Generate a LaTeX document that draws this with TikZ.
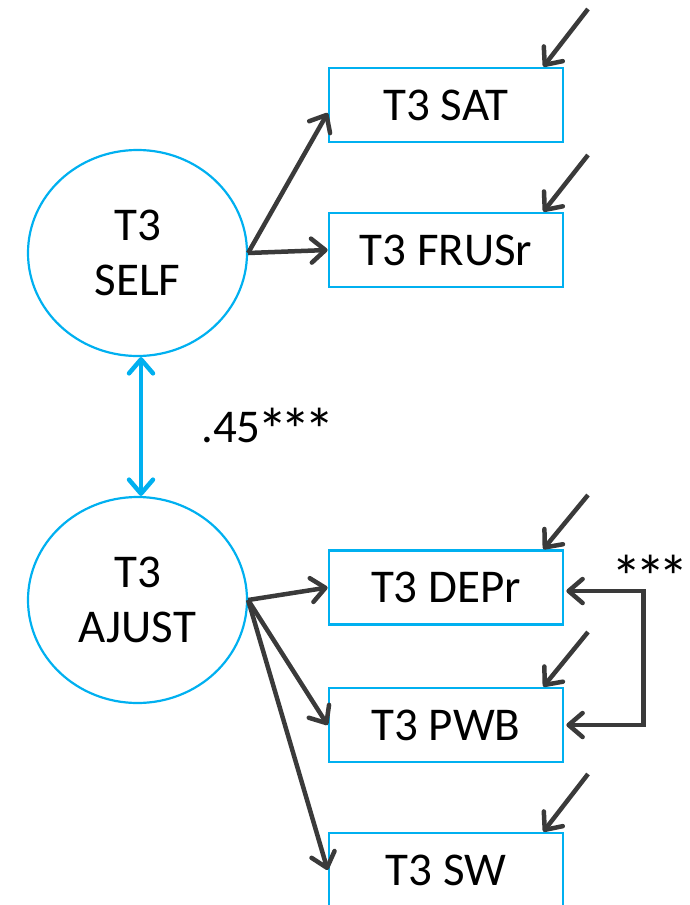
\documentclass[tikz,border=0pt]{standalone}
\usepackage{fontspec}
\usepackage{graphicx}
\setmainfont{Carlito}
\usetikzlibrary{arrows.meta,shapes.geometric}
\definecolor{cy}{HTML}{00B0F0}
\definecolor{dk}{HTML}{3A3A3A}
\newcommand{\bigast}{\makebox[0.5em]{\raisebox{-0.2em}{\scalebox{1.3}{*}}}}
\begin{document}
\begin{tikzpicture}[x=1pt,y=-1pt,
  latent/.style={ellipse,draw=cy,line width=2.2pt,minimum width=219pt,minimum height=206pt,inner sep=0pt,align=center,font=\fontsize{47}{55}\selectfont},
  obs/.style={rectangle,draw=cy,line width=2.7pt,minimum width=234pt,minimum height=74pt,inner sep=0pt,font=\fontsize{47}{55}\selectfont},
  arr/.style={draw=dk,line width=4.5pt,-{Straight Barb[length=14pt,width=24pt,round]}},
  dbl/.style={draw=cy,line width=4.5pt,{Straight Barb[length=14pt,width=24pt,round]}-{Straight Barb[length=14pt,width=24pt,round]}},
  cor/.style={draw=dk,line width=4.5pt,{Straight Barb[length=14pt,width=24pt,round]}-{Straight Barb[length=14pt,width=24pt,round]},shorten <=2pt,shorten >=2pt},
  lbl/.style={font=\fontsize{47}{55}\selectfont,inner sep=0pt,anchor=base west}]
\useasboundingbox (0,0) rectangle (689,905);
\clip (0,0) rectangle (689,905);
\node[latent] (self) at (137.5,253) {T3\\SELF};
\node[latent] (ajust) at (137.5,600) {T3\\AJUST};
\node[obs] (sat) at (446,105) {T3 SAT};
\node[obs] (frus) at (446,250) {T3 FRUSr};
\node[obs] (dep) at (446,587.5) {T3 DEPr};
\node[obs] (pwb) at (446,725) {T3 PWB};
\node[obs] (sw) at (446,870) {T3 SW};
\coordinate (e1) at (588,9);
\coordinate (e2) at (588,155);
\coordinate (e3) at (588,495);
\coordinate (e4) at (588,632);
\coordinate (e5) at (588,774);
\draw[arr] (self.east) -- ([yshift=-8pt]sat.west);
\draw[arr] (self.east) -- (frus.west);
\draw[arr] (ajust.east) -- (dep.west);
\draw[arr] (ajust.east) -- (pwb.west);
\draw[arr] (ajust.east) -- (sw.west);
\draw[arr] (e1) -- ([xshift=-21pt]sat.north east);
\draw[arr] (e2) -- ([xshift=-21pt]frus.north east);
\draw[arr] (e3) -- ([xshift=-21pt]dep.north east);
\draw[arr] (e4) -- ([xshift=-21pt]pwb.north east);
\draw[arr] (e5) -- ([xshift=-21pt]sw.north east);
\draw[dbl] ([xshift=3.5pt]self.south) -- ([xshift=3.5pt]ajust.north);
\draw[cor] ([yshift=-3.5pt]dep.east) -- ++(79,0) |- (pwb.east);
\node[lbl] (r) at (201,442) {.45\bigast\bigast\bigast};
\node[lbl] (c) at (615,589) {\bigast\bigast\bigast};
\end{tikzpicture}
\end{document}
